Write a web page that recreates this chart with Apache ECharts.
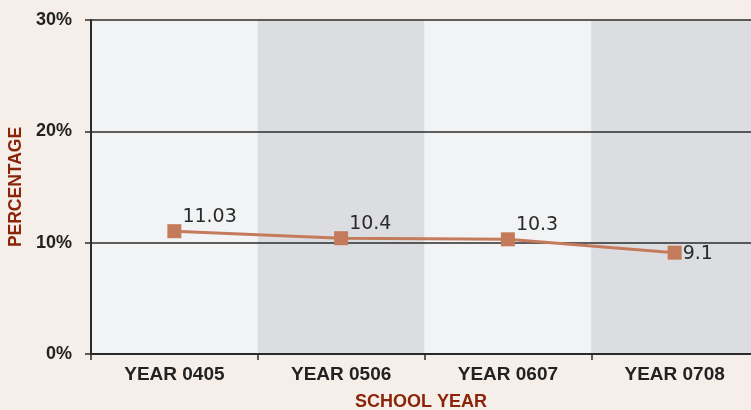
<!DOCTYPE html>
<html>
<head>
<meta charset="utf-8">
<script src="https://cdn.jsdelivr.net/npm/echarts@6/dist/echarts.min.js"></script>
<style>
  html, body { margin: 0; padding: 0; background: #f6eee8; }
  #chart { width: 751px; height: 410px; }
</style>
</head>
<body>
<div id="chart"></div>
<script>
// School-year categories and the percentage recorded for each
const schoolYears = ['YEAR 0405', 'YEAR 0506', 'YEAR 0607', 'YEAR 0708'];
const percentages = [11.03, 10.4, 10.3, 9.1];
const yTicks = [0, 10, 20, 30];

const lineColor = '#c47b5c';
const labelFont = 'Liberation Sans, Arial, sans-serif';

const chart = echarts.init(document.getElementById('chart'));

const seriesData = percentages.map((v, i) => {
  const last = i === percentages.length - 1;
  return {
    value: v,
    label: last
      ? { position: 'right', offset: [-4, 1] }
      : { position: 'right', offset: [-4, -14] }
  };
});

chart.setOption({
  backgroundColor: '#f6eee8',
  animation: false,
  // plot runs slightly past the right edge of the canvas
  grid: { left: 91, right: -7, top: 20, bottom: 56, containLabel: false, outerBoundsMode: 'none' },
  xAxis: {
    type: 'category',
    data: schoolYears,
    boundaryGap: true,
    z: 0,
    name: 'SCHOOL YEAR',
    nameLocation: 'middle',
    nameGap: 39,
    nameTextStyle: { color: '#8b2408', fontWeight: 'bold', fontSize: 18, fontFamily: labelFont, padding: [0, 7, 0, 0] },
    axisLine: { show: true, lineStyle: { color: '#2b2b2b', width: 2 } },
    axisTick: { show: true, length: 6, inside: false, lineStyle: { color: '#2b2b2b', width: 1.5 } },
    axisLabel: { color: '#222', fontWeight: 'bold', fontSize: 19, fontFamily: labelFont, margin: 11 },
    splitLine: { show: false },
    splitArea: { show: true, areaStyle: { color: ['#f2f3f5', '#dcdde0'] } }
  },
  yAxis: {
    type: 'value',
    min: yTicks[0],
    max: yTicks[yTicks.length - 1],
    interval: 10,
    z: 3,
    name: 'PERCENTAGE',
    nameLocation: 'middle',
    nameRotate: 90,
    nameGap: 66,
    nameTextStyle: { color: '#8b2408', fontWeight: 'bold', fontSize: 17.5, fontFamily: labelFont },
    axisLine: { show: true, lineStyle: { color: '#2b2b2b', width: 2 } },
    axisTick: { show: true, length: 6, lineStyle: { color: '#2b2b2b', width: 1.5 } },
    axisLabel: { color: '#222', fontWeight: 'bold', fontSize: 18, fontFamily: labelFont, margin: 19, formatter: '{value}%' },
    splitLine: { show: true, lineStyle: { color: '#2b2b2b', width: 1.5 } },
    splitArea: { show: false }
  },
  series: [{
    type: 'line',
    data: seriesData,
    symbol: 'rect',
    symbolSize: 14,
    itemStyle: { color: lineColor },
    lineStyle: { color: lineColor, width: 3 },
    label: {
      show: true,
      color: '#2a2a2a',
      fontSize: 19,
      fontFamily: 'DejaVu Sans, sans-serif',
      distance: 5
    },
    z: 5
  }]
});
</script>
</body>
</html>
